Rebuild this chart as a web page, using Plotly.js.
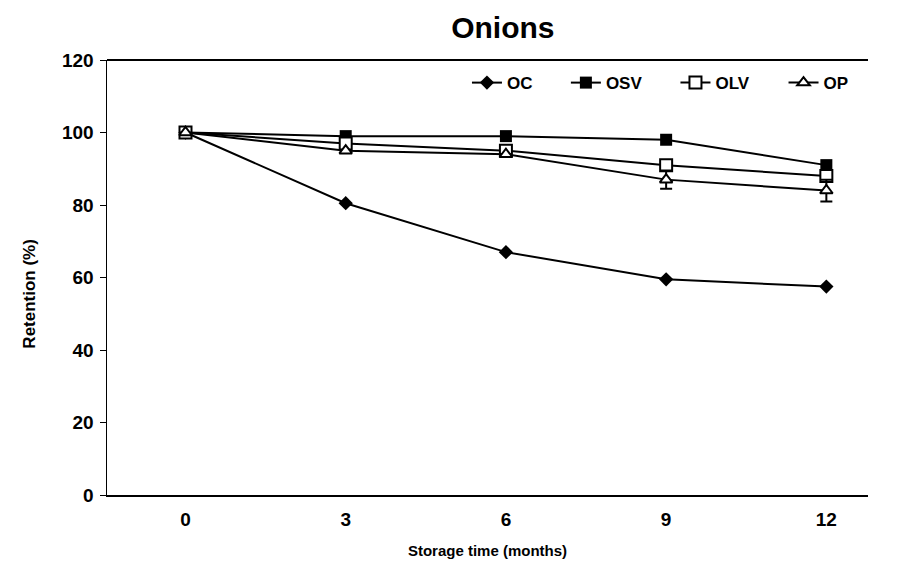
<!DOCTYPE html>
<html>
<head>
<meta charset="utf-8">
<script src="https://cdn.plot.ly/plotly-3.0.1.min.js"></script>
<style>html,body{margin:0;padding:0;background:#fff;}#chart{width:898px;height:567px;}</style>
</head>
<body>
<div id="chart"></div>
<script>
const months = ["0", "3", "6", "9", "12"];
const OC  = [100, 80.5, 67.0, 59.5, 57.5];
const OSV = [100, 99.0, 99.0, 98.0, 91.0];
const OLV = [100, 97.0, 95.0, 91.0, 88.0];
const OP  = [100, 95.0, 94.0, 87.0, 84.0];
const OPerr = [0, 0, 0, 2.5, 3.0];

const F = "Arial, 'Liberation Sans', sans-serif";
const traces = [
  {x: months, y: OC, name: "OC", type: "scatter", mode: "lines+markers", legend: "legend",
   line: {color: "#000", width: 2}, marker: {symbol: "diamond", size: 11, color: "#000"}},
  {x: months, y: OSV, name: "OSV", type: "scatter", mode: "lines+markers", legend: "legend2",
   line: {color: "#000", width: 2}, marker: {symbol: "square", size: 12, color: "#000"}},
  {x: months, y: OLV, name: "OLV", type: "scatter", mode: "lines+markers", legend: "legend3",
   line: {color: "#000", width: 2}, marker: {symbol: "square", size: 12, color: "#fff", line: {color: "#000", width: 2}}},
  {x: months, y: OP, name: "OP", type: "scatter", mode: "lines+markers", legend: "legend4",
   line: {color: "#000", width: 2}, marker: {symbol: "triangle-up", size: 11, color: "#fff", line: {color: "#000", width: 2}},
   error_y: {type: "data", array: OPerr, visible: true, color: "#000", thickness: 2, width: 6}}
];
function leg(x) {
  return {orientation: "h", x: x, xanchor: "left", y: 0.947, yanchor: "middle",
          font: {size: 17, family: F, color: "#000", weight: "bold"}, bgcolor: "rgba(0,0,0,0)"};
}
const layout = {
  width: 898, height: 567,
  margin: {l: 107, r: 30, t: 60, b: 72},
  paper_bgcolor: "#fff", plot_bgcolor: "#fff",
  font: {family: F, color: "#000"},
  title: {text: "<b>Onions</b>", font: {size: 30, family: F, color: "#000"}, x: 0.56, xanchor: "center", y: 0.952, yanchor: "middle"},
  xaxis: {type: "category", range: [-0.49, 4.26], showgrid: false, zeroline: false,
          showline: true, linecolor: "#000", linewidth: 2, ticks: "", ticklabelstandoff: 6,
          tickfont: {size: 19, family: F, color: "#000", weight: "bold"},
          title: {text: "<b>Storage time (months)</b>", font: {size: 15, family: F}, standoff: 17},
          mirror: false},
  yaxis: {range: [0, 120], dtick: 20, showgrid: false, zeroline: false,
          showline: true, linecolor: "#000", linewidth: 1.5, ticks: "outside", ticklen: 6, tickcolor: "#000",
          ticklabelstandoff: 2,
          tickfont: {size: 19, family: F, color: "#000", weight: "bold"}},
  annotations: [{text: "<b>Retention (%)</b>", textangle: -90, xref: "paper", yref: "paper",
                 x: -0.103, y: 0.462, xanchor: "center", yanchor: "middle", showarrow: false,
                 font: {size: 17, family: F, color: "#000"}}],
  legend: leg(0.473),
  legend2: leg(0.603),
  legend3: leg(0.747),
  legend4: leg(0.889),
  showlegend: true,
  shapes: [{type: "line", xref: "paper", yref: "paper", x0: 0, x1: 1, y0: 1, y1: 1, line: {color: "#000", width: 2}}]
};
Plotly.newPlot("chart", traces, layout, {displayModeBar: false, staticPlot: true});
</script>
</body>
</html>
